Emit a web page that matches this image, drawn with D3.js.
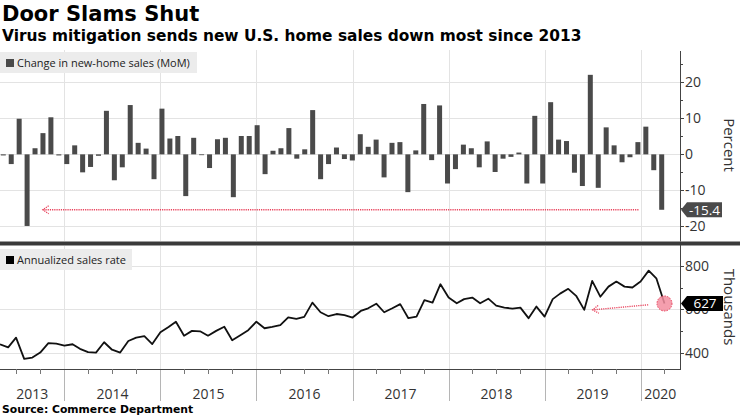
<!DOCTYPE html>
<html><head><meta charset="utf-8">
<script src="https://cdn.jsdelivr.net/npm/d3@7"></script>
<style>body{margin:0;background:#fff}svg{display:block}</style>
</head><body><svg id="c" width="740" height="416"></svg>
<script>
// ---- data ----
const firstMonth = "2013-04-01";
const lastMonth = "2020-03-01";
const momChange = [
 -0.3,-2.7,9.9,-19.9,1.7,5.9,10.3,-0.3,-2.7,
 2.5,-5.0,-3.5,-0.4,12.1,-7.2,-3.6,13.7,3.2,1.6,-6.9,12.7,
 4.4,5.1,-11.6,4.6,-0.1,-3.8,4.2,4.6,-11.9,5.1,5.1,8.1,
 -5.5,1.0,1.7,7.3,-1.2,1.4,12.3,-6.9,-2.7,1.9,-1.3,-1.7,
 5.6,2.1,4.1,-6.4,3.2,3.4,-10.5,1.1,14.0,-1.6,13.6,-8.1,
 -4.1,2.7,1.7,-3.6,3.6,-4.9,-1.2,-0.7,0.5,-8.1,10.7,-8.1,
 14.5,4.1,3.7,-5.1,-8.8,22.1,-9.3,7.5,2.5,-2.2,-0.8,3.4,
 7.7,-4.4,-15.4];
const salesRate = [
 441,427,471,374,380,403,446,444,435,
 441,420,405,403,450,416,403,456,471,478,442,496,
 520,544,480,502,500,480,502,521,459,482,505,544,
 514,520,528,564,557,566,631,587,569,579,574,563,
 593,605,626,587,605,624,560,567,642,631,715,654,
 628,647,654,628,649,617,608,604,608,560,613,567,
 647,672,694,662,598,730,658,704,727,704,700,727,
 777,742,627];
const yearLabels = ["2013","2014","2015","2016","2017","2018","2019","2020"];
const pctTicks = [-20,-10,0,10,20];
const pctMinor = [-20,-15,-10,-5,0,5,10,15,20,25];
const salesTicks = [400,600,800];
const salesMinor = [400,500,600,700,800];
const title = "Door Slams Shut";
const subtitle = "Virus mitigation sends new U.S. home sales down most since 2013";
const source = "Source: Commerce Department";
const legendTop = "Change in new-home sales (MoM)";
const legendBottom = "Annualized sales rate";
const lastChangeLabel = "-15.4";
const lastSalesLabel = "627";
// annotation arrows: [fromDate, fromValue, toDate, toValue]
const arrowTop = ["2019-12-24", -15.4, "2013-10-11", -15.4];
const arrowBottom = ["2020-01-30", 621, "2019-07-03", 598];

// ---- setup ----
const parse = d3.utcParse("%Y-%m-%d");
const months = d3.utcMonth.range(parse(firstMonth), d3.utcMonth.offset(parse(lastMonth), 1));
const svg = d3.select("#c");
const W = 740, plotR = 680, plotL = 0;
const FONT = "'Open Sans', sans-serif";
const BOLD = "'DejaVu Sans', Verdana, sans-serif";

const x = d3.scaleUtc().domain([parse("2013-05-01"), parse("2020-05-30")]).range([plotL, plotR]);
const xBar = d3.scalePoint().domain(months.map(d => +d)).range([3.3, 661.7]);
const endOf = d => d3.utcMonth.offset(d, 1);

const yTop = d3.scaleLinear().domain([-23.8, 29]).range([240, 50]);
const yBot = d3.scaleLinear().domain([328, 894]).range([369, 245]);

// titles
svg.append("text").attr("x", 2).attr("y", 21).text(title)
  .attr("font-family", BOLD).attr("font-weight", "bold").attr("font-size", 21).attr("fill", "#000");
svg.append("text").attr("x", 2).attr("y", 41).text(subtitle)
  .attr("font-family", BOLD).attr("font-weight", "bold").attr("font-size", 15.4).attr("fill", "#000");

// year boundaries
const yearStarts = d3.utcYear.range(parse("2014-01-01"), parse("2020-01-02"));
const grid = svg.append("g").attr("stroke", "#e3e3e3").attr("stroke-width", 1);
yearStarts.forEach(d => {
  const xx = Math.round(x(d)) + 0.5;
  grid.append("line").attr("x1", xx).attr("x2", xx).attr("y1", 50).attr("y2", 241);
  grid.append("line").attr("x1", xx).attr("x2", xx).attr("y1", 246).attr("y2", 369);
  svg.append("line").attr("x1", xx).attr("x2", xx).attr("y1", 369).attr("y2", 401).attr("stroke", "#b5b5b5");
});
// horizontal gridlines
pctTicks.forEach(v => grid.append("line").attr("x1", plotL).attr("x2", plotR)
  .attr("y1", Math.round(yTop(v)) + 0.5).attr("y2", Math.round(yTop(v)) + 0.5));
salesTicks.forEach(v => grid.append("line").attr("x1", plotL).attr("x2", plotR)
  .attr("y1", Math.round(yBot(v)) + 0.5).attr("y2", Math.round(yBot(v)) + 0.5));

// legends
function legend(y0, w, label, sq) {
  svg.append("rect").attr("x", 0).attr("y", y0).attr("width", w).attr("height", 21).attr("fill", "#ececec");
  svg.append("rect").attr("x", 6).attr("y", y0 + 7).attr("width", 8).attr("height", 8).attr("fill", sq);
  svg.append("text").attr("x", 17).attr("y", y0 + 15).text(label)
    .attr("font-family", FONT).attr("font-size", 11).attr("fill", "#222");
}
legend(52, 197, legendTop, "#4a4a4a");
legend(249, 132, legendBottom, "#000");

// bars
svg.append("g").selectAll("rect").data(months).join("rect")
  .attr("x", (d) => xBar(+d) - 2.5).attr("width", 5)
  .attr("y", (d, i) => yTop(Math.max(0, momChange[i])))
  .attr("height", (d, i) => Math.max(0.8, Math.abs(yTop(momChange[i]) - yTop(0))))
  .attr("fill", "#4a4a4a");

// line
const line = d3.line().x((d, i) => x(endOf(months[i]))).y(d => yBot(d));
svg.append("path").datum(salesRate).attr("d", line).attr("fill", "none")
  .attr("stroke", "#111").attr("stroke-width", 1.8).attr("stroke-linejoin", "round");

// annotations
const RED = "#e8405a";
function dottedArrow(a, ys) {
  const x1 = x(parse(a[0])), y1 = ys(a[1]), x2 = x(parse(a[2])), y2 = ys(a[3]);
  const g = svg.append("g").attr("stroke", RED).attr("fill", "none").attr("stroke-width", 1.3).attr("stroke-dasharray", "1.2,1");
  g.append("line").attr("x1", x1).attr("y1", y1).attr("x2", x2).attr("y2", y2);
  const ang = Math.atan2(y1 - y2, x1 - x2);
  const hl = 7, spread = 0.6;
  g.append("path").attr("d", `M${x2 + hl * Math.cos(ang - spread)},${y2 + hl * Math.sin(ang - spread)}L${x2},${y2}L${x2 + hl * Math.cos(ang + spread)},${y2 + hl * Math.sin(ang + spread)}`);
}
dottedArrow(arrowTop, yTop);
dottedArrow(arrowBottom, yBot);
const lastX = x(endOf(months[months.length - 1]));
svg.append("circle").attr("cx", lastX).attr("cy", yBot(salesRate[salesRate.length - 1]))
  .attr("r", 7.5).attr("fill", "#f38ea0").attr("fill-opacity", 0.85)
  .attr("stroke", RED).attr("stroke-width", 1).attr("stroke-dasharray", "1.5,1.2");

// divider
svg.append("rect").attr("x", 0).attr("y", 241.5).attr("width", W).attr("height", 4).attr("fill", "#3a3a3a");

// right axes
const AX = "#444";
svg.append("line").attr("x1", plotR + 0.5).attr("x2", plotR + 0.5).attr("y1", 51).attr("y2", 241.5).attr("stroke", AX);
svg.append("line").attr("x1", plotR + 0.5).attr("x2", plotR + 0.5).attr("y1", 245).attr("y2", 370).attr("stroke", AX);
pctMinor.forEach(v => svg.append("line").attr("x1", plotR).attr("x2", plotR + (v % 10 === 0 ? 4 : 3))
  .attr("y1", Math.round(yTop(v)) + 0.5).attr("y2", Math.round(yTop(v)) + 0.5).attr("stroke", AX));
salesMinor.forEach(v => svg.append("line").attr("x1", plotR).attr("x2", plotR + (v % 200 === 0 ? 4 : 3))
  .attr("y1", Math.round(yBot(v)) + 0.5).attr("y2", Math.round(yBot(v)) + 0.5).attr("stroke", AX));
const lastPct = momChange[momChange.length - 1];
pctTicks.forEach(v => svg.append("text").attr("x", 685).attr("y", yTop(v) + 5).text(v)
  .attr("font-family", FONT).attr("font-size", 14).attr("fill", "#333"));
const lastSales = salesRate[salesRate.length - 1];
salesTicks.forEach(v => {
  // tick label hidden behind the value tag (as in the reference) is clipped off
  const t = svg.append("text").attr("x", 685).attr("y", yBot(v) + 5).text(v)
    .attr("font-family", FONT).attr("font-size", 14).attr("fill", "#333");
  if (Math.abs(yBot(v) - yBot(lastSales)) < 14) {
    t.attr("y", yBot(v) + 5).attr("clip-path", "url(#tagclip)");
  }
});
svg.append("clipPath").attr("id", "tagclip").append("rect")
  .attr("x", 680).attr("y", yBot(lastSales) + 7.5).attr("width", 60).attr("height", 10);

svg.append("text").attr("transform", `translate(724,${(yTop(29) + 240) / 2}) rotate(90)`)
  .attr("text-anchor", "middle").text("Percent").attr("font-family", FONT).attr("font-size", 15).attr("fill", "#333");
svg.append("text").attr("transform", `translate(724,${(245 + 369) / 2}) rotate(90)`)
  .attr("text-anchor", "middle").text("Thousands").attr("font-family", FONT).attr("font-size", 15).attr("fill", "#333");

// value tags
function tag(yc, label, fill, w) {
  const h = 15, tip = plotR + 1, body = tip + 6;
  svg.append("path").attr("d", `M${tip},${yc}L${body},${yc - h / 2}H${body + w}V${yc + h / 2}H${body}Z`).attr("fill", fill);
  svg.append("text").attr("x", body + w / 2).attr("y", yc + 5).attr("text-anchor", "middle").text(label)
    .attr("font-family", FONT).attr("font-size", 13.5).attr("fill", "#fff");
}
tag(yTop(lastPct), lastChangeLabel, "#4a4a4a", 35);
tag(yBot(lastSales), lastSalesLabel, "#000", 36);

// bottom axis
svg.append("line").attr("x1", plotL).attr("x2", plotR + 1).attr("y1", 369.5).attr("y2", 369.5).attr("stroke", AX);
const quarters = d3.utcMonth.every(3).range(parse("2013-05-01"), parse("2020-05-30"));
quarters.forEach(d => {
  if (d.getUTCMonth() === 0) return;
  const xx = Math.round(x(d)) + 0.5;
  svg.append("line").attr("x1", xx).attr("x2", xx).attr("y1", 369).attr("y2", 374).attr("stroke", "#777");
});
yearLabels.forEach(yl => {
  const a = Math.max(plotL, x(parse(yl + "-01-01")));
  const b = Math.min(plotR, x(parse((+yl + 1) + "-01-01")));
  svg.append("text").attr("x", (a + b) / 2).attr("y", 399).attr("text-anchor", "middle").text(yl)
    .attr("font-family", FONT).attr("font-size", 14).attr("fill", "#333");
});

svg.append("text").attr("x", 2).attr("y", 413).text(source)
  .attr("font-family", BOLD).attr("font-weight", "bold").attr("font-size", 10.8).attr("fill", "#000");
</script></body></html>
